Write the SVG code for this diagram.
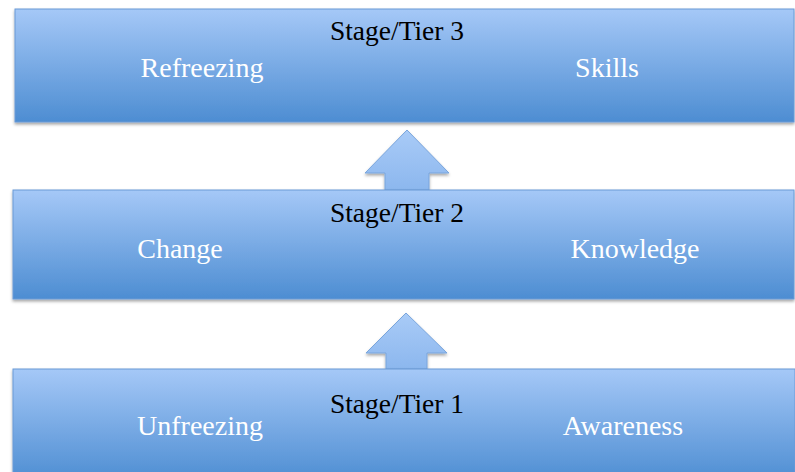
<svg xmlns="http://www.w3.org/2000/svg" width="795" height="472" viewBox="0 0 795 472">
  <defs>
    <linearGradient id="boxGrad" x1="0" y1="0" x2="0" y2="1">
      <stop offset="0" stop-color="#a5c8f7"/>
      <stop offset="1" stop-color="#4d8dd2"/>
    </linearGradient>
    <linearGradient id="arrowGrad" x1="0" y1="0" x2="0" y2="1">
      <stop offset="0" stop-color="#a9cbf7"/>
      <stop offset="1" stop-color="#8cb7ee"/>
    </linearGradient>
    <filter id="shadow" x="-5%" y="-10%" width="110%" height="130%">
      <feDropShadow dx="0" dy="2" stdDeviation="1.5" flood-color="#000" flood-opacity="0.35"/>
    </filter>
  </defs>
  <style>
    .box { fill: url(#boxGrad); stroke: #6b9ad6; stroke-width: 1; filter: url(#shadow); }
    .arrow { fill: url(#arrowGrad); stroke: #79a5dc; stroke-width: 1; filter: url(#shadow); }
    .stage { font-family: "Liberation Serif", "Times New Roman", serif; font-size: 27.5px; fill: #000; text-anchor: middle; }
    .lbl { font-family: "Liberation Serif", "Times New Roman", serif; font-size: 28px; fill: #fff; text-anchor: middle; }
  </style>
  <rect width="795" height="472" fill="#fff"/>
  <g id="connectors">
    <path class="arrow" d="M407,130 L449,173 L429,173 L429,190 L385,190 L385,173 L365,173 Z"/>
    <path class="arrow" d="M406,313 L447,353 L427,353 L427,369 L386,369 L386,353 L366,353 Z"/>
  </g>
  <g id="tier3">
    <rect class="box" x="15" y="9" width="779" height="113"/>
    <text class="stage" x="397" y="40">Stage/Tier 3</text>
    <text class="lbl" x="202" y="77">Refreezing</text>
    <text class="lbl" x="607" y="77">Skills</text>
  </g>
  <g id="tier2">
    <rect class="box" x="13" y="190" width="781" height="109"/>
    <text class="stage" x="397" y="222">Stage/Tier 2</text>
    <text class="lbl" x="180" y="258">Change</text>
    <text class="lbl" x="635" y="258">Knowledge</text>
  </g>
  <g id="tier1">
    <rect class="box" x="13" y="369" width="782" height="113"/>
    <text class="stage" x="397" y="413">Stage/Tier 1</text>
    <text class="lbl" x="200" y="435">Unfreezing</text>
    <text class="lbl" x="623" y="435">Awareness</text>
  </g>
</svg>
